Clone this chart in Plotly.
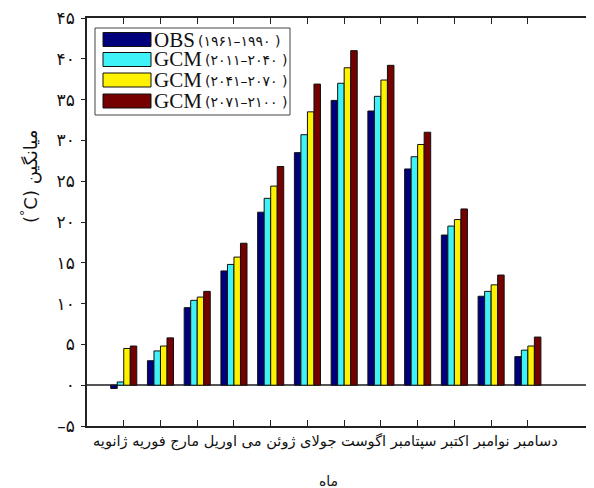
import plotly.graph_objects as go

# ---------------- data ----------------
months_num = list(range(1, 13))
month_labels = ["ژانویه", "فوریه", "مارج", "اوریل", "می", "ژوئن",
                "جولای", "اگوست", "سپتامبر", "اکتبر", "نوامبر", "دسامبر"]

series_names = ["OBS(۱۹۶۱–۱۹۹۰ )", "GCM(۲۰۱۱–۲۰۴۰ )",
                "GCM(۲۰۴۱–۲۰۷۰ )", "GCM(۲۰۷۱–۲۱۰۰ )"]

obs_1961_1990 = [-0.4, 3.0, 9.5, 14.0, 21.2, 28.5, 34.9, 33.6, 26.5, 18.4, 10.9, 3.5]
gcm_2011_2040 = [0.4, 4.2, 10.4, 14.8, 22.9, 30.7, 37.0, 35.4, 28.0, 19.5, 11.5, 4.3]
gcm_2041_2070 = [4.5, 4.8, 10.8, 15.7, 24.4, 33.5, 38.9, 37.4, 29.5, 20.3, 12.3, 4.8]
gcm_2071_2100 = [4.8, 5.8, 11.5, 17.4, 26.8, 36.9, 41.0, 39.2, 31.0, 21.6, 13.5, 5.9]

ytick_vals = [-5, 0, 5, 10, 15, 20, 25, 30, 35, 40, 45]
ytick_text = ["–۵", "۰", "۵", "۱۰", "۱۵", "۲۰", "۲۵", "۳۰", "۳۵", "۴۰", "۴۵"]

y_title_word = "میانگین"
y_title_unit = "(<sup>°</sup>C)"
x_title = "ماه"

colors = ["#00007c", "#3ff2f8", "#fff200", "#740000"]

# ---------------- geometry (page has an 8px body margin) ----------------
OFF = 8
W, H = 594 - OFF, 488 - OFF
L, R, T = 87 - OFF, 0, 18 - OFF
B = H - (426 - OFF)
pw, ph = W - L - R, H - T - B


def px(x):  # reference pixel -> paper
    return (x - OFF - L) / pw


def py(y):
    return (H - B - (y - OFF)) / ph


fig = go.Figure()
for name, vals, col in zip(series_names,
                           [obs_1961_1990, gcm_2011_2040, gcm_2041_2070, gcm_2071_2100],
                           colors):
    fig.add_trace(go.Bar(x=months_num, y=vals, name=name, marker_color=col,
                         marker_line_color="#111111", marker_line_width=1,
                         showlegend=False))

fig.update_layout(
    width=W, height=H,
    margin=dict(l=L, r=R, t=T, b=B, pad=0),
    paper_bgcolor="white", plot_bgcolor="white",
    barmode="group", bargap=0.29, bargroupgap=0,
    font=dict(family="DejaVu Sans", color="#111111"),
)

fig.update_xaxes(range=[0, 13.8], tickvals=months_num, showticklabels=False,
                 ticks="inside", ticklen=6, tickcolor="#222222",
                 showline=True, linecolor="#222222", linewidth=1.5,
                 mirror="ticks", showgrid=False, zeroline=False)
fig.update_yaxes(range=[-5, 45], tickvals=ytick_vals, ticktext=ytick_text,
                 ticks="outside", ticklen=4, tickcolor="#222222",
                 ticklabelstandoff=3, ticklabeloverflow="allow",
                 tickfont=dict(size=17, family="DejaVu Sans", color="#111111"),
                 showline=True, linecolor="#222222", linewidth=1.5,
                 mirror=False, showgrid=False,
                 zeroline=True, zerolinecolor="#555555", zerolinewidth=1.5)

# month labels as a single right-to-left string under the axis
fig.add_annotation(xref="paper", yref="paper", x=px(325), y=py(441),
                   text=" ".join(reversed(month_labels)), showarrow=False,
                   font=dict(size=14.6, family="DejaVu Sans", color="#111111"),
                   xanchor="center", yanchor="middle")
fig.add_annotation(xref="paper", yref="paper", x=px(328), y=py(481),
                   text=x_title, showarrow=False,
                   font=dict(size=14, family="DejaVu Sans", color="#111111"),
                   xanchor="center", yanchor="middle")
fig.add_annotation(xref="paper", yref="paper", x=px(30), y=py(177),
                   text=y_title_unit + " " + y_title_word, showarrow=False, textangle=-90,
                   font=dict(size=18, family="DejaVu Sans", color="#111111"),
                   xanchor="center", yanchor="middle")

# legend box
fig.add_shape(type="rect", xref="paper", yref="paper",
              x0=px(95), x1=px(290), y0=py(28), y1=py(115),
              line=dict(color="#444444", width=1), fillcolor="white")
row_y = [39.5, 59.5, 80, 101]
tail_x = [198, 205, 205, 205]
LRM = "\u200e"
for i, (name, col) in enumerate(zip(series_names, colors)):
    yc = row_y[i]
    head, tail = name.split("(", 1)
    fig.add_shape(type="rect", xref="paper", yref="paper",
                  x0=px(103), x1=px(151), y0=py(yc + 7), y1=py(yc - 7),
                  line=dict(color="#111111", width=1), fillcolor=col)
    fig.add_annotation(xref="paper", yref="paper", x=px(154), y=py(yc),
                       text=head, showarrow=False, xanchor="left", yanchor="middle",
                       borderpad=0, borderwidth=0,
                       font=dict(size=21, family="Liberation Serif", color="#111111"))
    fig.add_annotation(xref="paper", yref="paper", x=px(tail_x[i]), y=py(yc + 1),
                       text=LRM + "(" + tail + LRM, showarrow=False,
                       xanchor="left", yanchor="middle",
                       borderpad=0, borderwidth=0,
                       font=dict(size=14, family="DejaVu Sans", color="#111111"))

fig.write_html("out.html")
